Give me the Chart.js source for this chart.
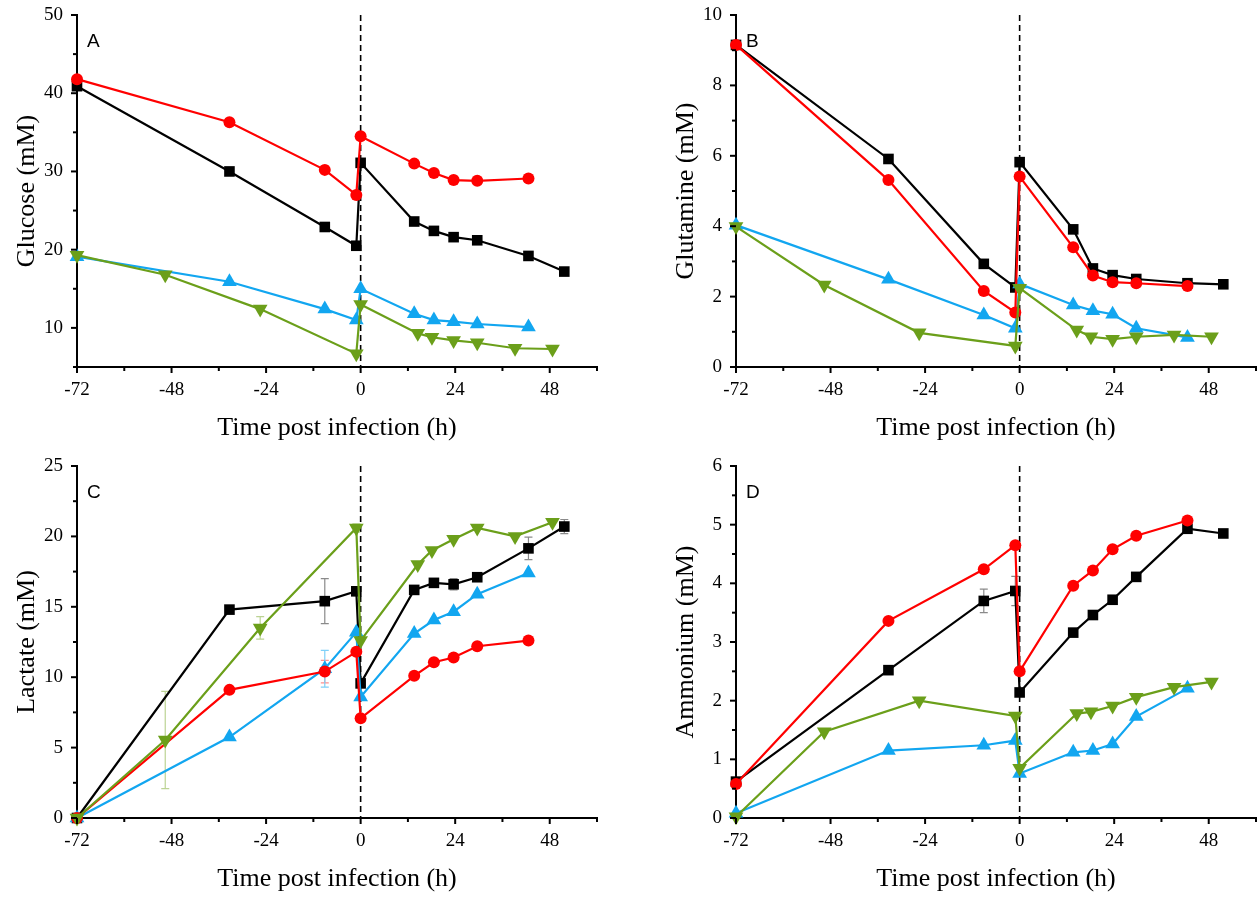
<!DOCTYPE html>
<html><head><meta charset="utf-8">
<script src="https://cdn.jsdelivr.net/npm/chart.js@4.4.0/dist/chart.umd.min.js"></script>
<style>
html,body{margin:0;padding:0;background:#fff;overflow:hidden;width:1258px;height:897px;position:relative}
.p{position:absolute}
</style></head><body>
<div class="p" style="left:0;top:0;width:629px;height:448px"><canvas id="cA"></canvas></div>
<div class="p" style="left:659px;top:0;width:599px;height:448px"><canvas id="cB"></canvas></div>
<div class="p" style="left:0;top:451px;width:629px;height:448px"><canvas id="cC"></canvas></div>
<div class="p" style="left:659px;top:451px;width:599px;height:448px"><canvas id="cD"></canvas></div>
<script>
// ---- time points (h post infection) ----
const timeMain  = [-72, -33.3, -9.1, -1.1, 0, 13.6, 18.6, 23.6, 29.6, 42.6, 51.7];
const timeGreen = [-72, -49.6, -25.5, -1.1, 0, 14.5, 18.1, 23.6, 29.6, 39.2, 48.7];
const xTickLabels = [-72, -48, -24, 0, 24, 48];

// ---- A: Glucose (mM) ----
const glucoseBlack = [40.9, 30.0, 22.9, 20.5, 31.1, 23.6, 22.4, 21.6, 21.2, 19.2, 17.2];
const glucoseRed   = [41.8, 36.3, 30.2, 27.0, 34.5, 31.0, 29.8, 28.9, 28.8, 29.1];
const glucoseBlue  = [19.1, 15.9, 12.4, 11.0, 15.0, 11.8, 11.0, 10.8, 10.5, 10.1];
const glucoseGreen = [19.3, 16.8, 12.4, 6.7, 13.0, 9.3, 8.8, 8.4, 8.1, 7.4, 7.3];
const glucoseRedErr = [0, 0, 0.5, 0, 0, 0, 0, 0, 0, 0];

// ---- B: Glutamine (mM) ----
const glutamineBlack = [9.15, 5.91, 2.93, 2.26, 5.82, 3.91, 2.80, 2.61, 2.50, 2.38, 2.35];
const glutamineRed   = [9.15, 5.31, 2.16, 1.55, 5.41, 3.40, 2.60, 2.41, 2.38, 2.30];
const glutamineBlue  = [4.03, 2.49, 1.48, 1.10, 2.36, 1.76, 1.60, 1.50, 1.10, 0.84];
const glutamineGreen = [3.99, 2.33, 0.97, 0.60, 2.24, 1.05, 0.86, 0.79, 0.86, 0.91, 0.86];

// ---- C: Lactate (mM) ----
const lactateBlack = [0, 14.8, 15.4, 16.1, 9.56, 16.2, 16.7, 16.6, 17.1, 19.15, 20.7];
const lactateRed   = [0, 9.1, 10.4, 11.8, 7.08, 10.1, 11.06, 11.4, 12.2, 12.6];
const lactateBlue  = [0, 5.75, 10.6, 13.2, 8.6, 13.1, 14.06, 14.65, 15.9, 17.4];
const lactateGreen = [0, 5.54, 13.5, 20.6, 12.6, 18.0, 19.0, 19.8, 20.6, 20.0, 21.0];
const lactateBlackErr = [0, 0, 1.6, 0, 0, 0, 0, 0.4, 0, 0.8, 0.5];
const lactateRedErr   = [0, 0, 0.8, 0, 0, 0, 0, 0, 0, 0];
const lactateBlueErr  = [0, 0, 1.3, 0, 0, 0, 0, 0, 0, 0];
const lactateGreenErr = [0, 3.45, 0.8, 0.3, 0, 0, 0, 0, 0, 0, 0];

// ---- D: Ammonium (mM) ----
const ammoniumBlack = [0.62, 2.52, 3.70, 3.87, 2.14, 3.16, 3.46, 3.72, 4.11, 4.93, 4.85];
const ammoniumRed   = [0.58, 3.36, 4.24, 4.65, 2.50, 3.96, 4.22, 4.58, 4.81, 5.07];
const ammoniumBlue  = [0.08, 1.15, 1.24, 1.32, 0.76, 1.12, 1.15, 1.26, 1.73, 2.21];
const ammoniumGreen = [0.02, 1.47, 2.00, 1.74, 0.85, 1.78, 1.81, 1.91, 2.06, 2.23, 2.32];
const ammoniumBlackErr = [0, 0, 0.2, 0.25, 0, 0, 0, 0, 0, 0, 0];

const COL = {black:'#000000', red:'#FF0000', blue:'#12A6F0', green:'#6B9F1A'};
const ERRCOL = {black:'#8a8a8a', red:'#ff8f8f', blue:'#7fd0f8', green:'#bcd394'};

function pts(t, v){ return v.map((y,i)=>({x:t[i], y:y})); }
function ds(color, style, t, v, err){
  return {
    data: pts(t, v), borderColor: COL[color], backgroundColor: COL[color],
    borderWidth: 2.2, pointStyle: style.shape, pointRotation: style.rot||0,
    pointRadius: style.r, pointHoverRadius: style.r, pointBorderWidth: 0,
    tension: 0, clip: false, errColor: ERRCOL[color], errors: err || null
  };
}
const SQ = {shape:'rect', r:7.5};
const CI = {shape:'circle', r:6};
const UP = {shape:'triangle', r:8.5};
const DN = {shape:'triangle', r:8.5, rot:180};

const serif = "'Liberation Serif', 'Times New Roman', serif";

const decoPlugin = {
  id:'deco',
  beforeDatasetsDraw(chart){
    const {ctx, chartArea:ca, scales:{x, y}} = chart;
    const px = x.getPixelForValue(0);
    ctx.save();
    ctx.strokeStyle='#000'; ctx.lineWidth=1.6; ctx.setLineDash([6,4]);
    ctx.beginPath(); ctx.moveTo(px, ca.top); ctx.lineTo(px, ca.bottom); ctx.stroke();
    ctx.setLineDash([]);
    chart.data.datasets.forEach((d)=>{
      if(!d.errors) return;
      ctx.strokeStyle = d.errColor; ctx.lineWidth = 1.2;
      d.errors.forEach((e,i)=>{
        if(!e) return;
        const p = d.data[i];
        const cx = x.getPixelForValue(p.x);
        const y1 = y.getPixelForValue(p.y + e);
        const y2 = y.getPixelForValue(p.y - e);
        ctx.beginPath();
        ctx.moveTo(cx, y1); ctx.lineTo(cx, y2);
        ctx.moveTo(cx-4, y1); ctx.lineTo(cx+4, y1);
        ctx.moveTo(cx-4, y2); ctx.lineTo(cx+4, y2);
        ctx.stroke();
      });
    });
    ctx.restore();
  },
  afterDraw(chart){
    const {ctx, chartArea:ca, scales:{x, y}} = chart;
    const o = chart.options.plugins.deco;
    ctx.save();
    ctx.strokeStyle='#000'; ctx.lineWidth=2;
    x.ticks.forEach(t=>{
      const px = x.getPixelForValue(t.value);
      const major = xTickLabels.includes(t.value);
      ctx.beginPath(); ctx.moveTo(px, ca.bottom); ctx.lineTo(px, ca.bottom + (major?6:4)); ctx.stroke();
    });
    y.ticks.forEach(t=>{
      const py = y.getPixelForValue(t.value);
      const major = Math.abs(t.value / o.yLabelStep - Math.round(t.value / o.yLabelStep)) < 1e-6;
      ctx.beginPath(); ctx.moveTo(ca.left, py); ctx.lineTo(ca.left - (major?6:4), py); ctx.stroke();
    });
    ctx.fillStyle='#000';
    ctx.font = "19px 'Liberation Sans', Arial, sans-serif";
    ctx.textBaseline='alphabetic'; ctx.textAlign='left';
    ctx.fillText(o.letter, ca.left + 10, ca.top + 32);
    ctx.restore();
  }
};

function makeChart(id, cfg){
  new Chart(document.getElementById(id), {
    type:'line',
    data:{datasets: cfg.datasets},
    plugins:[decoPlugin],
    options:{
      responsive:true, maintainAspectRatio:false, animation:false,
      layout:{autoPadding:false, padding:{top:15, right:cfg.padRight, left:0, bottom:0}},
      plugins:{legend:{display:false}, tooltip:{enabled:false}, deco:{letter:cfg.letter, yLabelStep:cfg.yLabelStep}},
      scales:{
        x:{
          type:'linear', min:-72, max:60,
          grid:{display:false, drawTicks:false},
          border:{display:true, color:'#000', width:2},
          ticks:{stepSize:12, autoSkip:false, maxRotation:0, padding:12, color:'#000',
                 font:{family:serif, size:19},
                 callback:(v)=> xTickLabels.includes(v) ? String(v) : ''},
          title:{display:true, text:'Time post infection (h)', color:'#000',
                 font:{family:serif, size:26}, padding:{top:0, bottom:4}},
          afterFit(s){ s.height = 81; s.paddingLeft = 0; s.paddingRight = 0; }
        },
        y:{
          type:'linear', min:cfg.yMin, max:cfg.yMax,
          grid:{display:false, drawTicks:false},
          border:{display:true, color:'#000', width:2},
          ticks:{stepSize:cfg.yStep, autoSkip:false, padding:14, color:'#000',
                 font:{family:serif, size:19},
                 callback:(v)=> (Math.abs(v/cfg.yLabelStep - Math.round(v/cfg.yLabelStep))<1e-6) ? String(v) : ''},
          title:{display:true, text:cfg.yTitle, color:'#000',
                 font:{family:serif, size:26}, padding:{top:12, bottom:0}},
          afterFit(s){ s.width = 77; s.paddingTop = 0; s.paddingBottom = 0; }
        }
      }
    }
  });
}

makeChart('cA', {letter:'A', yTitle:'Glucose (mM)', yMin:5, yMax:50, yStep:5, yLabelStep:10, padRight:32,
  datasets:[ds('green',DN,timeGreen,glucoseGreen), ds('red',CI,timeMain,glucoseRed,glucoseRedErr),
            ds('blue',UP,timeMain,glucoseBlue), ds('black',SQ,timeMain,glucoseBlack)]});
makeChart('cB', {letter:'B', yTitle:'Glutamine (mM)', yMin:0, yMax:10, yStep:1, yLabelStep:2, padRight:2,
  datasets:[ds('green',DN,timeGreen,glutamineGreen), ds('red',CI,timeMain,glutamineRed),
            ds('blue',UP,timeMain,glutamineBlue), ds('black',SQ,timeMain,glutamineBlack)]});
makeChart('cC', {letter:'C', yTitle:'Lactate (mM)', yMin:0, yMax:25, yStep:2.5, yLabelStep:5, padRight:32,
  datasets:[ds('green',DN,timeGreen,lactateGreen,lactateGreenErr), ds('red',CI,timeMain,lactateRed,lactateRedErr),
            ds('blue',UP,timeMain,lactateBlue,lactateBlueErr), ds('black',SQ,timeMain,lactateBlack,lactateBlackErr)]});
makeChart('cD', {letter:'D', yTitle:'Ammonium (mM)', yMin:0, yMax:6, yStep:0.5, yLabelStep:1, padRight:2,
  datasets:[ds('green',DN,timeGreen,ammoniumGreen), ds('red',CI,timeMain,ammoniumRed),
            ds('blue',UP,timeMain,ammoniumBlue), ds('black',SQ,timeMain,ammoniumBlack,ammoniumBlackErr)]});
</script>
</body></html>
